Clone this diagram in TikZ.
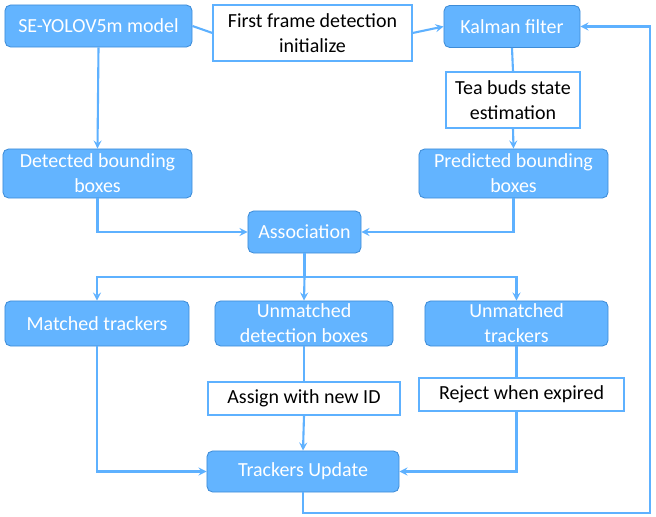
\documentclass[tikz,border=0pt]{standalone}
\usepackage{fontspec}
\setmainfont{Carlito}
\usetikzlibrary{positioning}
\definecolor{boxblue}{RGB}{99,180,255}
\definecolor{boxedge}{RGB}{62,140,215}
\definecolor{lineblue}{RGB}{94,177,255}

\begin{document}
\begin{tikzpicture}[x=0.025cm,y=-0.025cm,
    font=\fontsize{14.2}{17.6}\selectfont,
    bluebox/.style={draw=boxedge,fill=boxblue,rounded corners=4pt,text=white,line width=0.6pt,align=center,inner sep=2pt},
    whitebox/.style={draw=lineblue,fill=white,text=black,line width=0.8pt,align=center,inner sep=2pt},
    conn/.style={draw=lineblue,line width=1.5pt},
    arr/.style={conn,-stealth}]
  \useasboundingbox (0,0) rectangle (656,517);
  % top row
  \node[bluebox,minimum width=4.675cm,minimum height=1.05cm] (yolo) at (98.5,26) {SE-YOLOV5m model};
  \node[whitebox,minimum width=4.975cm,minimum height=1.4cm] (first) at (312.5,33) {First frame detection\\initialize};
  \node[bluebox,minimum width=3.4cm,minimum height=1.05cm] (kalman) at (512,26.5) {Kalman filter};
  \node[whitebox,minimum width=3.35cm,minimum height=1.4cm] (tea) at (513,100) {Tea buds state\\estimation};
  % bounding boxes
  \node[bluebox,minimum width=4.725cm,minimum height=1.225cm] (detected) at (97.5,173.5) {Detected bounding\\boxes};
  \node[bluebox,minimum width=4.725cm,minimum height=1.225cm] (predicted) at (513.5,173.5) {Predicted bounding\\boxes};
  \node[bluebox,minimum width=2.825cm,minimum height=1.05cm] (assoc) at (304.5,232) {Association};
  % matching results
  \node[bluebox,minimum width=4.6cm,minimum height=1.125cm] (matched) at (97,323.5) {Matched trackers};
  \node[bluebox,minimum width=4.45cm,minimum height=1.125cm] (undet) at (304,323.5) {Unmatched\\detection boxes};
  \node[bluebox,minimum width=4.575cm,minimum height=1.125cm] (untrk) at (516.5,323.5) {Unmatched\\trackers};
  \node[whitebox,minimum width=4.8cm,minimum height=0.825cm] (assign) at (304,398.5) {Assign with new ID};
  \node[whitebox,minimum width=5.125cm,minimum height=0.825cm] (reject) at (521.5,394.5) {Reject when expired};
  \node[bluebox,minimum width=4.8cm,minimum height=1.025cm] (update) at (303,471.5) {Trackers Update};
  \coordinate (split) at (304.5,277);
  \coordinate (loop) at (650,513);

  \draw[conn] (yolo.east) -- (first.west);
  \draw[arr] (first.east) -- (kalman.west);
  \draw[conn] (kalman.south) -- (tea.north);
  \draw[arr] (tea.south) -- (predicted.north);
  \draw[arr] (yolo.south) -- (detected.north);
  \draw[arr] (detected.south) |- (assoc.west);
  \draw[arr] (predicted.south) |- (assoc.east);
  \draw[conn] (assoc.south) -- (split);
  \draw[arr] (split) -| (matched.north);
  \draw[arr] (split) -- (undet.north);
  \draw[arr] (split) -| (untrk.north);
  \draw[conn] (undet.south) -- (assign.north);
  \draw[arr] (assign.south) -- (update.north);
  \draw[conn] (untrk.south) -- (untrk.south |- reject.north);
  \draw[arr] (untrk.south |- reject.south) |- (update.east);
  \draw[arr] (matched.south) |- (update.west);
  \draw[arr] (update.south) |- (loop) |- (kalman.east);
\end{tikzpicture}
\end{document}
